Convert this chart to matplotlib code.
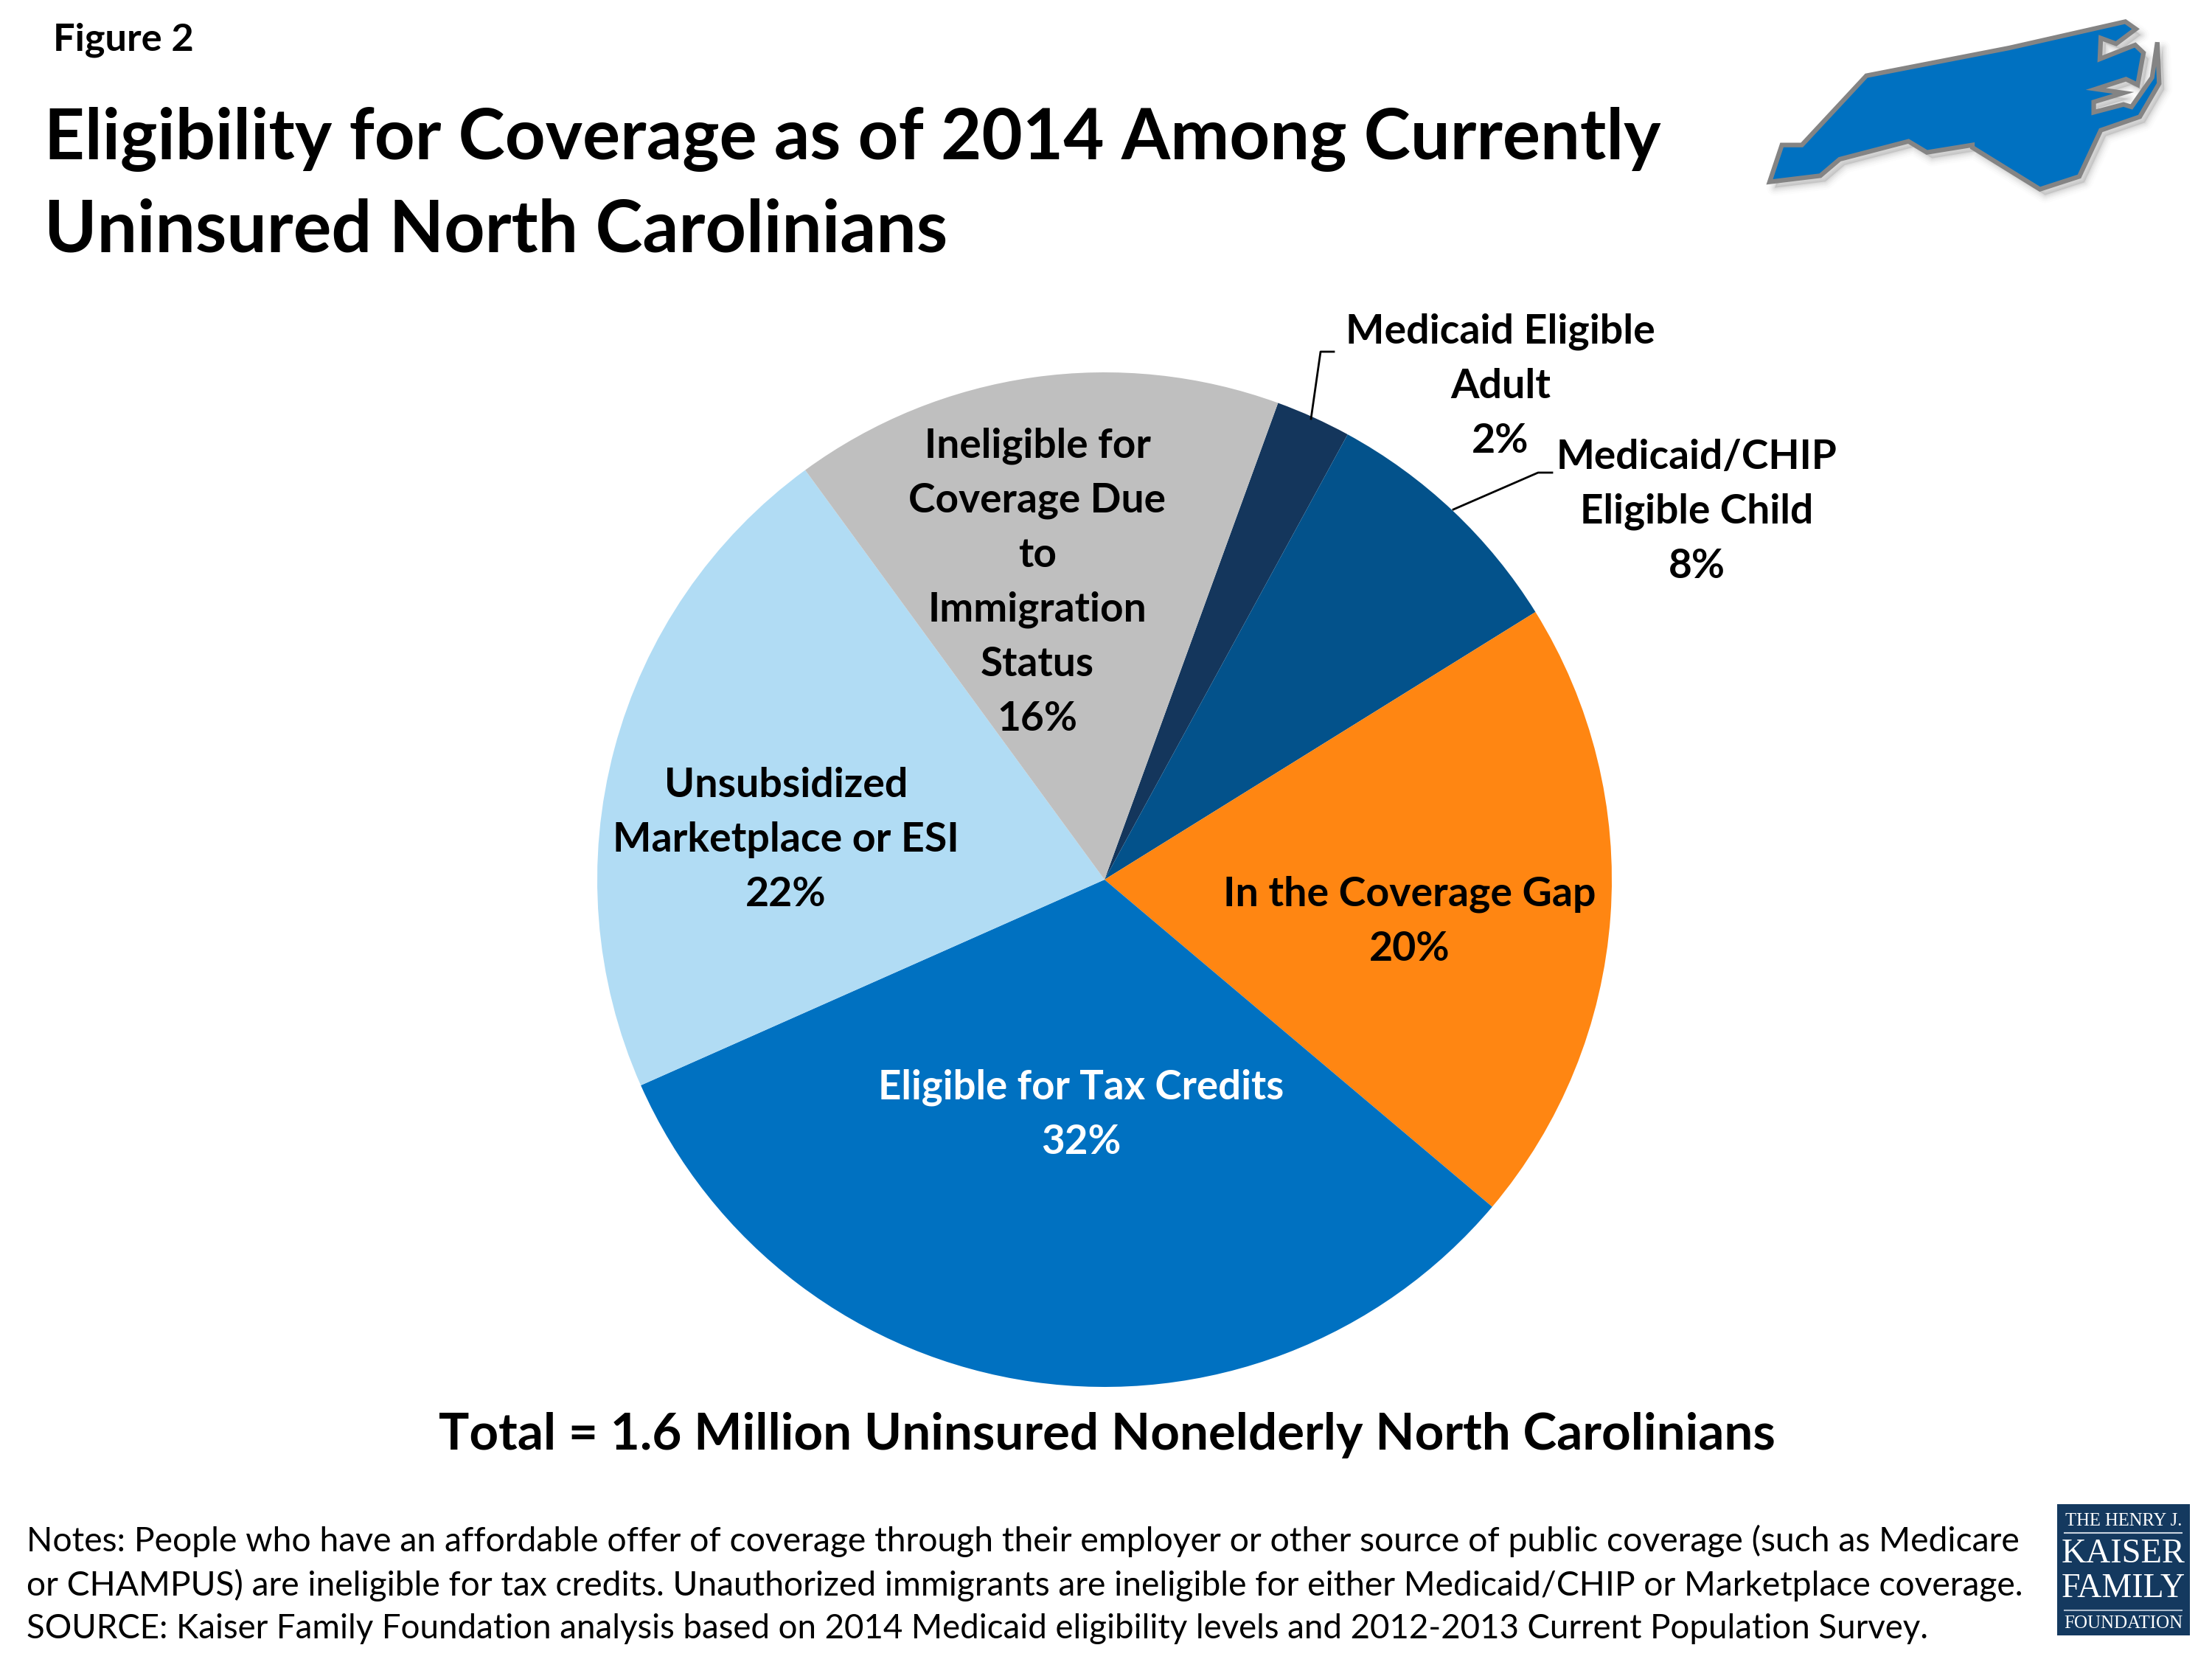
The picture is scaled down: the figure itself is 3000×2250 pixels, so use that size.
"""Eligibility pie chart for uninsured North Carolinians."""

import matplotlib
matplotlib.use('Agg')
import matplotlib.pyplot as plt
from matplotlib.patches import Polygon, Rectangle

plt.rcParams['font.family'] = ['Lato', 'DejaVu Sans']

# ---- data ----
categories = ['Medicaid Eligible Adult', 'Medicaid/CHIP Eligible Child', 'In the Coverage Gap',
              'Eligible for Tax Credits', 'Unsubsidized Marketplace or ESI',
              'Ineligible for Coverage Due to Immigration Status']
shares = [2.4, 8.2, 20.0, 32.2, 21.6, 15.6]
shown_pct = ['2%', '8%', '20%', '32%', '22%', '16%']
colors = ['#14365C', '#03528B', '#FF8612', '#0071C1', '#B1DCF4', '#BFBFBF']

title_lines = ['Eligibility for Coverage as of 2014 Among Currently', 'Uninsured North Carolinians']
total_text = 'Total = 1.6 Million Uninsured Nonelderly North Carolinians'
notes = ['Notes: People who have an affordable offer of coverage through their employer or other source of public coverage (such as Medicare',
         'or CHAMPUS) are ineligible for tax credits. Unauthorized immigrants are ineligible for either Medicaid/CHIP or Marketplace coverage.',
         'SOURCE: Kaiser Family Foundation analysis based on 2014 Medicaid eligibility levels and 2012-2013 Current Population Survey.']

# state outline, in zoomed map pixels
nc_outline = [(120, 740), (160, 590), (225, 590), (435, 308), (900, 195), (1278, 88), (1312, 118),
              (1248, 178), (1198, 155), (1195, 240), (1310, 183), (1337, 215), (1318, 345),
              (1280, 322), (1182, 362), (1272, 378), (1175, 415), (1175, 457), (1272, 425),
              (1298, 435), (1365, 315), (1382, 172), (1388, 340), (1325, 475), (1198, 530),
              (1128, 718), (1000, 770), (780, 600), (780, 590), (632, 620), (572, 575),
              (348, 648), (285, 715)]

W, H = 3000, 2250
fig = plt.figure(figsize=(W / 100, H / 100), dpi=100, facecolor='white')

# ---- pie ----
cx, cy, r = 1498, 1193, 688
ax_pie = fig.add_axes([(cx - r) / W, 1 - (cy + r) / H, 2 * r / W, 2 * r / H])
ax_pie.pie(shares, colors=colors, startangle=70, counterclock=False, radius=1)
ax_pie.set_xlim(-1, 1)
ax_pie.set_ylim(-1, 1)
ax_pie.axis('off')

# ---- overlay in pixel coordinates ----
ax = fig.add_axes([0, 0, 1, 1], zorder=5)
ax.set_xlim(0, W)
ax.set_ylim(H, 0)
ax.axis('off')

def label(x, y, lines, size=40, color='black', weight='bold'):
    step = 74
    y0 = y - step * (len(lines) - 1) / 2
    for i, s in enumerate(lines):
        ax.text(x, y0 + i * step, s, ha='center', va='center', fontsize=size, color=color, fontweight=weight)

ax.text(72, 54, 'Figure 2', fontsize=37.7, fontweight='bold', va='center')
ax.text(60, 216, title_lines[0], fontsize=68.8, fontweight='bold', va='baseline')
ax.text(60, 341, title_lines[1], fontsize=69.6, fontweight='bold', va='baseline')

label(2035, 524, ['Medicaid Eligible', 'Adult', shown_pct[0]])
label(2301, 694, ['Medicaid/CHIP', 'Eligible Child', shown_pct[1]], size=39.6)
label(1912, 1250, ['In the Coverage Gap', shown_pct[2]])
label(1466, 1512, ['Eligible for Tax Credits', shown_pct[3]], size=39.3, color='white')
label(1066, 1139, ['Unsubsidized', 'Marketplace or ESI', shown_pct[4]])
label(1407, 790, ['Ineligible for', 'Coverage Due', 'to', 'Immigration', 'Status', shown_pct[5]], size=39.6)

# leader lines
ax.plot([1778, 1791, 1809], [568, 477, 477], color='black', lw=2)
ax.plot([1971, 2086, 2105], [691, 641, 641], color='black', lw=2)

ax.text(1501, 1946, total_text, ha='center', va='center', fontsize=49.8, fontweight='bold')

for y, s, fs in zip([2090, 2150, 2209], notes, [33.35, 33.25, 32.9]):
    ax.text(36, y, s, va='center', fontsize=fs)

# ---- state map with soft shadow ----
pts = [(2350 + x / 2.4, y / 3) for x, y in nc_outline]
for w, a in [(22, 0.025), (17, 0.035), (12, 0.05), (8, 0.07), (4, 0.09)]:
    ax.add_patch(Polygon([(x + 7, y + 8) for x, y in pts], closed=True, fc='#808080', ec='#808080',
                         lw=w * 0.72, alpha=a, joinstyle='round'))
ax.add_patch(Polygon(pts, closed=True, fc='#0071C1', ec='#848484', lw=4.5, joinstyle='miter'))

# ---- foundation logo ----
navy = '#14395F'
ax.add_patch(Rectangle((2790, 2040), 180, 178, fc=navy, ec='none'))
ax.plot([2800, 2959], [2079, 2079], color='#C8D2DE', lw=1.5)
ax.plot([2800, 2959], [2184, 2184], color='#A8B8CA', lw=1.5)
for x, y, s, fs in [(2880, 2063, 'THE HENRY J.', 17.7), (2880, 2108, 'KAISER', 33.5),
                    (2880, 2155, 'FAMILY', 33), (2880, 2202, 'FOUNDATION', 18)]:
    ax.text(x, y, s, family='Liberation Serif', ha='center', va='center', fontsize=fs, color='white')

fig.savefig('out.png', dpi=100, facecolor='white')
